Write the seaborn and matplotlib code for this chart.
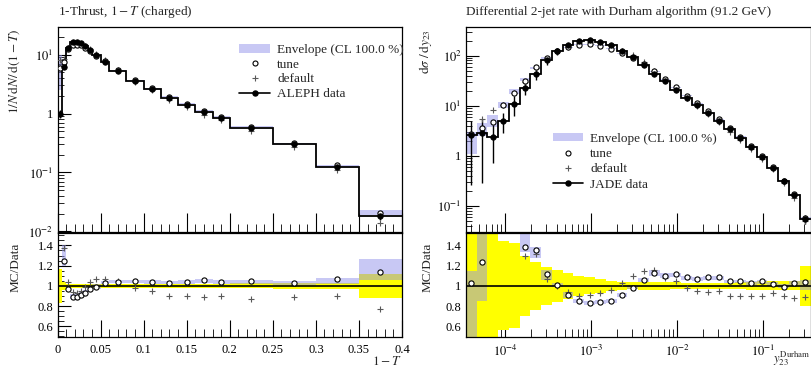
import numpy as np
import matplotlib
matplotlib.use("Agg")
import matplotlib.pyplot as plt
import seaborn as sns
from matplotlib.ticker import FixedLocator, FuncFormatter, LogLocator, NullFormatter, MultipleLocator
from matplotlib.patches import Patch
from matplotlib.lines import Line2D

# ---------------- data: 1-Thrust (ALEPH) ----------------
thr_edges = [0, 0.005, 0.01, 0.015, 0.02, 0.025, 0.03, 0.035, 0.04, 0.05, 0.06,
             0.08, 0.1, 0.12, 0.14, 0.16, 0.18, 0.2, 0.25, 0.3, 0.35, 0.4]
thr_data = [1.0, 6.1, 12.7, 16.1, 16.5, 15.8, 13.9, 11.9, 9.7, 7.5, 5.2,
            3.5, 2.6, 1.87, 1.41, 1.06, 0.85, 0.57, 0.305, 0.123, 0.018]
thr_relerr = [0.17, 0.04, 0.02, 0.02, 0.02, 0.02, 0.02, 0.02, 0.02, 0.02, 0.02,
              0.02, 0.02, 0.02, 0.02, 0.02, 0.02, 0.025, 0.03, 0.03, 0.12]
thr_tune = [6.0, 1.25, 0.97, 0.89, 0.89, 0.91, 0.93, 0.97, 0.99, 1.03, 1.04,
            1.05, 1.04, 1.03, 1.04, 1.06, 1.04, 1.05, 1.03, 1.07, 1.14]
thr_default = [8.0, 1.377, 1.037, 0.943, 0.927, 0.953, 0.993, 1.037, 1.07, 1.067, 1.043,
               0.977, 0.947, 0.903, 0.903, 0.887, 0.897, 0.87, 0.887, 0.897, 0.767]
thr_env_lo = [2.5, 1.2, 0.95, 0.87, 0.87, 0.89, 0.91, 0.95, 0.97, 1.02, 1.03,
              1.03, 1.02, 1.02, 1.02, 1.03, 1.02, 1.02, 1.01, 1.02, 1.06]
thr_env_hi = [10.0, 1.4, 1.0, 0.92, 0.92, 0.94, 0.96, 1.0, 1.02, 1.05, 1.06,
              1.06, 1.06, 1.05, 1.06, 1.07, 1.06, 1.06, 1.05, 1.08, 1.27]

# ---------------- data: Durham y23 (JADE) ----------------
jet_edges = [3.49e-5, 4.66e-5, 6.21e-5, 8.29e-5, 1.107e-4, 1.477e-4, 1.970e-4, 2.629e-4,
             3.508e-4, 4.681e-4, 6.245e-4, 8.334e-4, 1.112e-3, 1.484e-3, 1.980e-3, 2.642e-3,
             3.524e-3, 4.703e-3, 6.274e-3, 8.373e-3, 1.117e-2, 1.490e-2, 1.988e-2, 2.653e-2,
             3.540e-2, 4.723e-2, 6.302e-2, 8.409e-2, 0.1122, 0.1497, 0.1997, 0.2665, 0.3556]
jet_data = [2.6, 2.9, 2.4, 5.0, 11.0, 23.0, 43.0, 80.0, 122.0, 161.0, 194.0, 203.0,
            188.0, 161.0, 122.0, 92.0, 64.0, 43.0, 30.5, 20.7, 14.6, 10.4, 7.3, 5.0,
            3.4, 2.3, 1.51, 0.95, 0.58, 0.32, 0.166, 0.056]
jet_relerr = [0.9, 0.9, 0.7, 0.44, 0.42, 0.30, 0.24, 0.19, 0.16, 0.13, 0.10, 0.083,
              0.067, 0.05, 0.04, 0.035, 0.04, 0.04, 0.04, 0.035, 0.03, 0.03, 0.03, 0.03,
              0.03, 0.035, 0.04, 0.045, 0.045, 0.045, 0.045, 0.2]
jet_tune = [1.03, 1.24, 2.0, 2.1, 1.6, 1.38, 1.35, 1.12, 1.01, 0.91, 0.85, 0.83,
            0.84, 0.85, 0.91, 0.98, 1.053, 1.127, 1.10, 1.117, 1.083, 1.07, 1.083, 1.083,
            1.043, 1.043, 1.027, 1.043, 1.017, 0.993, 1.027, 1.037]
jet_default = [np.nan, 1.86, 3.4, 2.1, 1.6, 1.30, 1.32, 1.07, 1.0, 0.943, 0.90, 0.91,
               0.933, 0.96, 1.027, 1.093, 1.15, 1.16, 1.08, 1.05, 0.977, 0.95, 0.937, 0.95,
               0.90, 0.90, 0.90, 0.90, 0.927, 0.90, 0.883, 0.887]
jet_env_lo = [0.42, 0.85, 1.6, 1.8, 1.58, 1.33, 1.28, 1.06, 0.99, 0.88, 0.83, 0.81,
              0.82, 0.83, 0.89, 0.97, 1.04, 1.10, 1.08, 1.09, 1.06, 1.05, 1.06, 1.06,
              1.03, 1.03, 1.01, 1.02, 1.00, 0.98, 1.01, 0.96]
jet_env_hi = [1.15, 1.55, 2.7, 2.4, 1.95, 1.55, 1.38, 1.16, 1.03, 0.94, 0.87, 0.85,
              0.86, 0.87, 0.93, 1.01, 1.08, 1.16, 1.13, 1.13, 1.10, 1.09, 1.10, 1.10,
              1.06, 1.06, 1.05, 1.06, 1.04, 1.02, 1.05, 1.06]

# ---------------- style ----------------
sns.set_theme(style="ticks")
plt.rcParams["font.family"] = ["Liberation Serif", "DejaVu Serif"]
plt.rcParams["mathtext.fontset"] = "stix"
plt.rcParams["axes.linewidth"] = 0.9
plt.rcParams["axes.edgecolor"] = "black"

ENV_COL = (147 / 255, 147 / 255, 235 / 255)
ENV_ALPHA = 0.5
YEL = "#ffff00"
FS = 9.5
TFS = 9

W, H = 811, 368
fig = plt.figure(figsize=(W / 100, H / 100), dpi=100)


def frac(x0, y0, x1, y1):
    return [x0 / W, 1 - y1 / H, (x1 - x0) / W, (y1 - y0) / H]


axL = fig.add_axes(frac(57.5, 26.7, 402.0, 232.5))
axLr = fig.add_axes(frac(57.5, 232.5, 402.0, 337.0))
axR = fig.add_axes(frac(465.7, 26.7, 810.5, 232.5))
axRr = fig.add_axes(frac(465.7, 232.5, 810.5, 337.0))


def logfmt(v, pos):
    if v <= 0:
        return ""
    e = int(round(np.log10(v)))
    if abs(v - 10 ** e) > 1e-9 * v:
        return ""
    if e == 0:
        return "1"
    return r"$10^{%d}$" % e


def draw(ax, axr, edges, data, relerr, tune, default, env_lo, env_hi, logx):
    edges = np.asarray(edges, float)
    data = np.asarray(data, float)
    relerr = np.asarray(relerr, float)
    tune = np.asarray(tune, float)
    default = np.asarray(default, float)
    elo = np.asarray(env_lo, float)
    ehi = np.asarray(env_hi, float)
    if logx:
        centers = np.sqrt(edges[:-1] * edges[1:])
    else:
        centers = 0.5 * (edges[:-1] + edges[1:])

    # main panel
    ax.fill_between(edges, np.append(data * elo, data[-1] * elo[-1]),
                    np.append(data * ehi, data[-1] * ehi[-1]), step="post",
                    color=ENV_COL, alpha=ENV_ALPHA, lw=0, zorder=1)
    ax.stairs(data, edges, baseline=None, color="black", lw=1.3, zorder=3)
    ax.errorbar(centers, data, yerr=[data * np.minimum(relerr, 0.9), data * relerr],
                fmt="none", ecolor="black", elinewidth=1.0, zorder=4)
    sns.scatterplot(x=centers, y=data * default, marker="+", s=22, color="0.35",
                    linewidth=0.8, ax=ax, zorder=5)
    sns.scatterplot(x=centers, y=data * tune, marker="o", s=14, facecolor="white",
                    edgecolor="black", linewidth=0.8, ax=ax, zorder=6)
    sns.scatterplot(x=centers, y=data, marker="o", s=16, color="black",
                    edgecolor="black", linewidth=0.5, ax=ax, zorder=7)
    ax.set_yscale("log")

    # ratio panel
    axr.fill_between(edges, np.append(1 - relerr, 1 - relerr[-1]),
                     np.append(1 + relerr, 1 + relerr[-1]), step="post",
                     color=YEL, lw=0, zorder=1)
    axr.fill_between(edges, np.append(elo, elo[-1]), np.append(ehi, ehi[-1]),
                     step="post", color=ENV_COL, alpha=ENV_ALPHA, lw=0, zorder=2)
    axr.axhline(1.0, color="black", lw=1.2, zorder=3)
    sns.scatterplot(x=centers, y=default, marker="+", s=22, color="0.35",
                    linewidth=0.8, ax=axr, zorder=5)
    sns.scatterplot(x=centers, y=tune, marker="o", s=14, facecolor="white",
                    edgecolor="black", linewidth=0.8, ax=axr, zorder=6)

    for a in (ax, axr):
        a.set_xlim(edges[0], edges[-1])
        a.set_xlabel("")
        a.set_ylabel("")
        if logx:
            a.set_xscale("log")
            a.xaxis.set_major_locator(LogLocator(base=10, numticks=20))
            a.xaxis.set_minor_locator(LogLocator(base=10, subs=np.arange(2, 10), numticks=100))
            a.xaxis.set_minor_formatter(NullFormatter())
        else:
            a.xaxis.set_major_locator(MultipleLocator(0.05))
            a.xaxis.set_minor_locator(MultipleLocator(0.01))
        a.tick_params(axis="both", which="both", direction="in", top=False, right=False,
                      labelsize=TFS, colors="black", pad=3)
        a.tick_params(axis="y", which="major", length=9, width=0.8)
        a.tick_params(axis="y", which="minor", length=4.5, width=0.6)
    ax.tick_params(axis="x", which="major", length=14, width=0.8, labelbottom=False)
    ax.tick_params(axis="x", which="minor", length=6, width=0.6)
    axr.tick_params(axis="x", which="major", length=12, width=0.8, pad=5)
    axr.tick_params(axis="x", which="minor", length=5.5, width=0.6)

    ax.yaxis.set_major_locator(LogLocator(base=10, numticks=20))
    ax.yaxis.set_minor_locator(LogLocator(base=10, subs=np.arange(2, 10), numticks=100))
    ax.yaxis.set_major_formatter(FuncFormatter(logfmt))
    ax.yaxis.set_minor_formatter(NullFormatter())

    axr.set_ylim(0.493, 1.528)
    axr.yaxis.set_major_locator(FixedLocator([0.6, 0.8, 1.0, 1.2, 1.4]))
    axr.yaxis.set_minor_locator(MultipleLocator(0.05))
    axr.yaxis.set_major_formatter(FuncFormatter(lambda v, p: "%g" % v))
    if logx:
        axr.xaxis.set_major_formatter(FuncFormatter(logfmt))
    else:
        axr.xaxis.set_major_formatter(FuncFormatter(lambda v, p: "%g" % round(v, 3)))
    axr.set_ylabel("MC/Data", fontsize=FS, loc="top")


draw(axL, axLr, thr_edges, thr_data, thr_relerr, thr_tune, thr_default,
     thr_env_lo, thr_env_hi, logx=False)
draw(axR, axRr, jet_edges, jet_data, jet_relerr, jet_tune, jet_default,
     jet_env_lo, jet_env_hi, logx=True)

axL.set_ylim(0.0096, 29.7)
axR.set_ylim(0.0297, 377)

# titles & labels
axL.text(0.0, 1.071, r"1-Thrust, $1-T$ (charged)", transform=axL.transAxes,
         ha="left", va="center", fontsize=FS)
axR.text(0.0, 1.071, "Differential 2-jet rate with Durham algorithm (91.2 GeV)",
         transform=axR.transAxes, ha="left", va="center", fontsize=FS)
axL.set_ylabel(r"$1/N\,\mathrm{d}N/\,\mathrm{d}(1-T)$", fontsize=FS, loc="top")
axR.set_ylabel(r"$\mathrm{d}\sigma\ /\,\mathrm{d}y_{23}$", fontsize=FS, loc="top")
axL.yaxis.set_label_coords(-0.103, 0.99)
axR.yaxis.set_label_coords(-0.093, 0.99)
axLr.yaxis.set_label_coords(-0.103, 0.9)
axRr.yaxis.set_label_coords(-0.093, 0.9)
axLr.text(1.0, -0.175, r"$1-T$", transform=axLr.transAxes, ha="right", va="top",
          fontsize=FS)
axRr.text(1.0, -0.115, r"$y_{23}^{\mathrm{Durham}}$", transform=axRr.transAxes,
          ha="right", va="top", fontsize=9)

# legends
handles = [Patch(facecolor=ENV_COL, alpha=ENV_ALPHA, edgecolor="none"),
           Line2D([], [], ls="none", marker="o", ms=3.6, mfc="white", mec="black", mew=0.8),
           Line2D([], [], ls="none", marker="+", ms=5, color="0.35", mew=0.8),
           Line2D([], [], color="black", lw=1.2, marker="o", ms=3.6)]
labsL = ["Envelope (CL 100.0 %)", "tune", "default", "ALEPH data"]
labsR = ["Envelope (CL 100.0 %)", "tune", "default", "JADE data"]
axL.legend(handles, labsL, loc="upper left", bbox_to_anchor=(0.528, 0.915),
           frameon=False, fontsize=FS, handlelength=2.3, handleheight=0.6,
           handletextpad=0.55, labelspacing=0.2, borderpad=0, borderaxespad=0)
axR.legend(handles, labsR, loc="upper left", bbox_to_anchor=(0.252, 0.485),
           frameon=False, fontsize=FS, handlelength=2.3, handleheight=0.6,
           handletextpad=0.55, labelspacing=0.25, borderpad=0, borderaxespad=0)

fig.savefig("out.png", dpi=100)
